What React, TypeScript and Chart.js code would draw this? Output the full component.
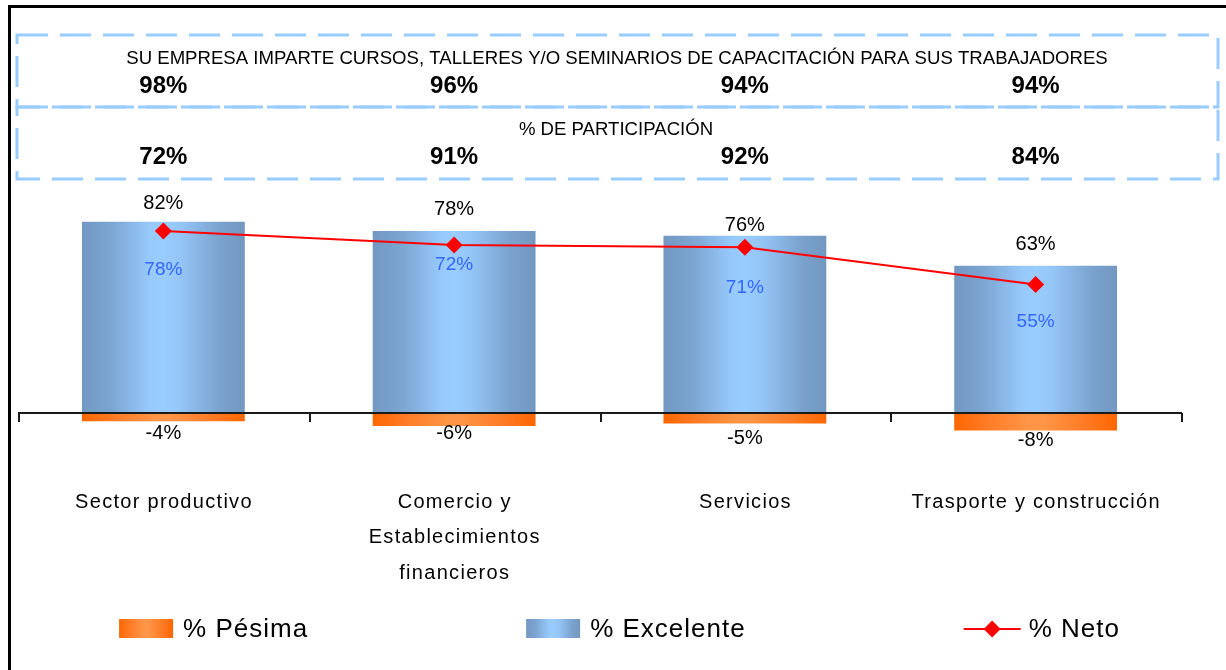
import React, { useEffect, useRef } from 'react';
import { Chart, registerables } from 'chart.js';

Chart.register(...registerables);

// ---------------- data ----------------
const categories: string[][] = [
  ['Sector productivo'],
  ['Comercio y', 'Establecimientos', 'financieros'],
  ['Servicios'],
  ['Trasporte y construcción'],
];
const pesima = [-4, -6, -5, -8];
const excelente = [82, 78, 76, 63];
const neto = [78, 72, 71, 55];
const imparteCursos = [98, 96, 94, 94];
const participacion = [72, 91, 92, 84];
const titleCursos =
  'SU EMPRESA IMPARTE CURSOS, TALLERES Y/O SEMINARIOS DE CAPACITACIÓN PARA SUS TRABAJADORES';
const titleParticipacion = '% DE PARTICIPACIÓN';
const seriesNames = ['% Pésima', '% Excelente', '% Neto'];

// ---------------- style ----------------
const FONT = '"Liberation Sans", Arial, sans-serif';
const BAR_PCT = 0.56;
const blueStops: [number, string][] = [
  [0, '#7398c2'],
  [0.18, '#7ca5d1'],
  [0.42, '#97c9fc'],
  [0.5, '#99ccff'],
  [0.6, '#95c6f8'],
  [0.85, '#7aa2cd'],
  [1, '#7398c0'],
];
const orangeStops: [number, string][] = [
  [0, '#ff6600'],
  [0.2, '#ff7b25'],
  [0.45, '#ff9546'],
  [0.55, '#ff9546'],
  [0.8, '#ff7b25'],
  [1, '#ff6600'],
];
const topLabelGap = [18, 22, 10, 21];
const netoLabelGap = [39, 20, 40, 37];
const negLabelGap = [12, 8, 15, 10];

function gradient(ctx: CanvasRenderingContext2D, x0: number, x1: number, stops: [number, string][]) {
  const g = ctx.createLinearGradient(x0, 0, x1, 0);
  stops.forEach(([o, c]) => g.addColorStop(o, c));
  return g;
}

function barFill(stops: [number, string][], fallback: string) {
  return (c: any) => {
    const chart = c.chart;
    const xs = chart.scales?.x;
    const area = chart.chartArea;
    if (!xs || !area) return fallback;
    const cx = xs.getPixelForValue(c.dataIndex);
    const w = (area.width / categories.length) * BAR_PCT;
    return gradient(chart.ctx, cx - w / 2, cx + w / 2, stops);
  };
}

const overlayPlugin = {
  id: 'overlay',
  afterDatasetsDraw(chart: any) {
    const ctx: CanvasRenderingContext2D = chart.ctx;
    const ys = chart.scales.y;
    const area = chart.chartArea;
    ctx.save();

    // zero axis with category ticks
    const y0 = ys.getPixelForValue(0) + 1;
    ctx.strokeStyle = '#1a1a1a';
    ctx.lineWidth = 2;
    ctx.beginPath();
    ctx.moveTo(area.left, y0);
    ctx.lineTo(area.right + 1, y0);
    const step = area.width / categories.length;
    for (let i = 0; i <= categories.length; i++) {
      const x = Math.round(area.left + i * step) + 1;
      ctx.moveTo(x, y0);
      ctx.lineTo(x, y0 + 9);
    }
    ctx.stroke();
    ctx.restore();
  },
  afterDraw(chart: any) {
    const ctx: CanvasRenderingContext2D = chart.ctx;
    const xs = chart.scales.x;
    const ys = chart.scales.y;
    ctx.save();
    ctx.textAlign = 'center';
    ctx.textBaseline = 'middle';

    // value labels
    for (let i = 0; i < categories.length; i++) {
      const cx = xs.getPixelForValue(i);
      ctx.font = `20px ${FONT}`;
      ctx.fillStyle = '#000';
      ctx.fillText(`${excelente[i]}%`, cx, ys.getPixelForValue(excelente[i]) - topLabelGap[i]);
      ctx.fillText(`${pesima[i]}%`, cx, ys.getPixelForValue(pesima[i]) + negLabelGap[i]);
      ctx.fillStyle = '#3366ff';
      ctx.font = `19px ${FONT}`;
      ctx.fillText(`${neto[i]}%`, cx, ys.getPixelForValue(neto[i]) + netoLabelGap[i]);
    }

    // category labels
    ctx.fillStyle = '#000';
    ctx.font = `20px ${FONT}`;
    (ctx as any).letterSpacing = '1.3px';
    for (let i = 0; i < categories.length; i++) {
      const cx = xs.getPixelForValue(i);
      categories[i].forEach((line, k) => ctx.fillText(line, cx + 0.6, 502 + k * 35.7));
    }
    (ctx as any).letterSpacing = '0px';

    // dashed header boxes
    ctx.strokeStyle = '#99ccff';
    ctx.lineWidth = 3;
    ctx.setLineDash([31, 12]);
    ctx.strokeRect(17, 35, 1201, 72);
    ctx.strokeRect(17, 107, 1201, 72);
    ctx.setLineDash([]);

    ctx.fillStyle = '#000';
    ctx.font = `18.6px ${FONT}`;
    ctx.fillText(titleCursos, 617, 59);
    ctx.fillText(titleParticipacion, 616, 130);
    ctx.font = `bold 24px ${FONT}`;
    for (let i = 0; i < categories.length; i++) {
      const cx = xs.getPixelForValue(i);
      ctx.fillText(`${imparteCursos[i]}%`, cx, 86);
      ctx.fillText(`${participacion[i]}%`, cx, 157);
    }

    // legend
    ctx.font = `26px ${FONT}`;
    (ctx as any).letterSpacing = '1px';
    ctx.textAlign = 'left';
    const swW = [54, 54, 57];
    const txtGap = [10, 10, 8];
    const itemGap = 218;
    const widths = seriesNames.map((n, i) => swW[i] + txtGap[i] + ctx.measureText(n).width);
    const total = widths.reduce((a, b) => a + b, 0) + itemGap * (seriesNames.length - 1);
    let x = 619.5 - total / 2;
    const ly = 629;
    seriesNames.forEach((name, i) => {
      if (i < 2) {
        ctx.fillStyle = gradient(ctx, x, x + swW[i], i === 0 ? orangeStops : blueStops);
        ctx.fillRect(x, ly - 10, swW[i], 19);
      } else {
        ctx.strokeStyle = '#ff0000';
        ctx.lineWidth = 2;
        ctx.beginPath();
        ctx.moveTo(x, ly);
        ctx.lineTo(x + swW[i], ly);
        ctx.stroke();
        const mx = x + swW[i] / 2;
        ctx.fillStyle = '#ff0000';
        ctx.beginPath();
        ctx.moveTo(mx - 8.5, ly);
        ctx.lineTo(mx, ly - 8.5);
        ctx.lineTo(mx + 8.5, ly);
        ctx.lineTo(mx, ly + 8.5);
        ctx.closePath();
        ctx.fill();
      }
      ctx.fillStyle = '#000';
      ctx.fillText(name, x + swW[i] + txtGap[i], ly + 1);
      x += widths[i] + itemGap;
    });
    (ctx as any).letterSpacing = '0px';

    ctx.restore();
  },
};

export default function App() {
  const ref = useRef<HTMLCanvasElement>(null);
  useEffect(() => {
    const chart = new Chart(ref.current as HTMLCanvasElement, {
      type: 'bar',
      data: {
        labels: categories.map((c) => c.join(' ')),
        datasets: [
          {
            type: 'line',
            label: seriesNames[2],
            data: neto,
            borderColor: '#ff0000',
            borderWidth: 2,
            backgroundColor: '#ff0000',
            pointStyle: 'rectRot',
            pointRadius: 8.5,
            pointBorderWidth: 0,
            pointBackgroundColor: '#ff0000',
            tension: 0,
            order: 0,
          } as any,
          {
            type: 'bar',
            label: seriesNames[1],
            data: excelente,
            backgroundColor: barFill(blueStops, '#99ccff'),
            borderWidth: 0,
            grouped: false,
            categoryPercentage: 1,
            barPercentage: BAR_PCT,
            order: 1,
          } as any,
          {
            type: 'bar',
            label: seriesNames[0],
            data: pesima,
            backgroundColor: barFill(orangeStops, '#ff8833'),
            borderWidth: 0,
            grouped: false,
            categoryPercentage: 1,
            barPercentage: BAR_PCT,
            order: 2,
          } as any,
        ],
      },
      options: {
        responsive: true,
        maintainAspectRatio: false,
        animation: false,
        layout: { padding: { left: 18, right: 45, top: 180, bottom: 118.8 } },
        scales: {
          x: { display: false, offset: true },
          y: { display: false, min: -60, max: 100 },
        },
        plugins: {
          legend: { display: false },
          tooltip: { enabled: false },
        },
      },
      plugins: [overlayPlugin],
    });
    return () => chart.destroy();
  }, []);

  return (
    <div
      style={{
        position: 'absolute',
        left: 0,
        top: 0,
        width: 1226,
        height: 670,
        overflow: 'hidden',
        background: '#fff',
      }}
    >
      <div
        style={{
          position: 'absolute',
          left: 8,
          top: 5,
          width: 1300,
          height: 800,
          border: '3px solid #000',
          boxSizing: 'border-box',
        }}
      />
      <div style={{ position: 'absolute', left: 0, top: 0, width: 1226, height: 670 }}>
        <canvas ref={ref} />
      </div>
    </div>
  );
}
